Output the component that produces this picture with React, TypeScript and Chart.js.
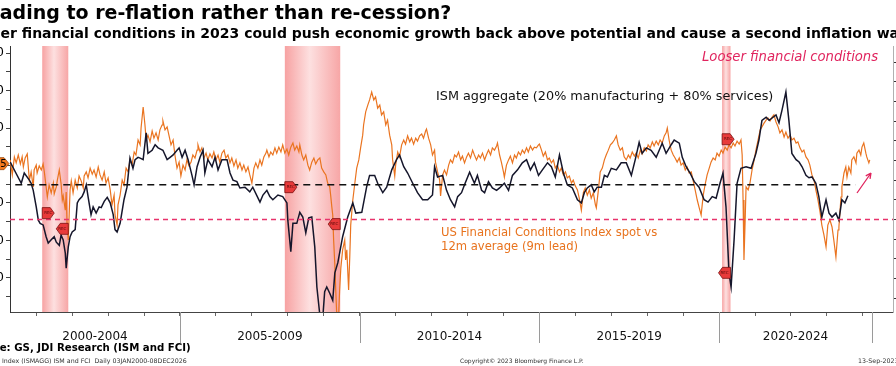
import React, { useEffect, useRef } from "react";
import { Chart, registerables } from "chart.js";

Chart.register(...registerables);

const FONT = "'DejaVu Sans', Verdana, sans-serif";

// ---- Time axis: months since January 2000 ----
const xMin = 3.24;
const xMax = 298.06;
const yearTicks = Array.from({ length: 24 }, (_, i) => 12 * (i + 1));
const periodLabels = ["2000-2004", "2005-2009", "2010-2014", "2015-2019", "2020-2024"];
const periodBounds = [0, 60, 120, 180, 240, 291];

// ---- Left axis (FCI spot vs 12m average, inverted) ----
const leftMin = -3.907;
const leftMax = 3.187;
const leftTicks = [-3.5, -3, -2.5, -2, -1.5, -1, -0.5, 0, 0.5, 1, 1.5, 2, 2.5, 3];
const fciLastTag = "0.05";

// ---- Right axis (ISM) ----
const rightMin = 38.22;
const rightMax = 72.06;
const rightTicks = [40, 42.5, 45, 47.5, 50, 52.5, 55, 57.5, 60, 62.5, 65, 67.5, 70];
const ismAverage = 54.4;
const ismAverageSpan = [5, 285.5];
const ismThreshold = 50;

// ---- Recessions (months since Jan 2000) ----
const recStart = [14, 95, 241];
const recEnd = [22.7, 113.5, 243.8];
const recStartIsm = [50.8, 54.1, 60.2];
const recEndIsm = [48.8, 49.4, 43.2];

// ---- ISM aggregate (20% manufacturing + 80% services) ----
const ismMonths = [
  3.3, 7, 8, 9.7, 10.3, 11, 12, 12.7, 13.3, 14.3,
  15.3, 16, 17, 18, 18.7, 19.7, 20.3, 21, 21.7, 22,
  22.7, 23.3, 24, 25, 25.7, 26.3, 27.3, 28, 28.7, 29.3,
  30.3, 31, 32, 33, 33.7, 34.7, 35.7, 36.7, 37.7, 38.3,
  39, 40, 41.3, 42.3, 43.3, 44.3, 45, 46, 46.7, 47.7,
  48.7, 49.3, 50.7, 51.7, 52.7, 54.3, 55.7, 56.7, 57.7, 59,
  59.7, 60.7, 61.7, 62.7, 64, 64.7, 65.7, 66.7, 67.7, 68.3,
  69.3, 70.7, 71.7, 72.7, 74, 75.7, 76.7, 77.7, 79, 80,
  81.7, 83.3, 84.3, 86.7, 87.7, 89, 90, 91, 92.7, 94.3,
  95.7, 96, 97, 97.7, 99, 100, 101, 102, 103, 104,
  105, 105.7, 106.7, 107.7, 108.3, 109, 110, 111, 111.7, 112.7,
  114.3, 116, 117.7, 118.7, 120.7, 122.3, 123.3, 125, 126, 127.7,
  129, 130.7, 132.3, 133.3, 134.7, 136, 137.7, 139.3, 141, 142.7,
  144.3, 145, 146, 147.7, 149, 150.3, 151.7, 152.7, 154, 155,
  156.7, 158.3, 159.3, 160.7, 161.7, 163, 164.3, 165.7, 166.7, 168.3,
  169.7, 171, 172.7, 174.3, 175.7, 177, 178.3, 179.7, 181, 182.7,
  184, 185.3, 186.7, 188, 189.3, 191, 192.7, 194, 195, 196,
  197.3, 198.3, 199.3, 200.7, 201.7, 202.7, 204, 205.7, 207.3, 209,
  210.7, 212, 213.3, 214.3, 215.7, 217.3, 219, 220, 221, 222.3,
  224, 225, 226.7, 227.7, 229, 230.3, 231.7, 233.3, 235, 236.3,
  237.7, 239, 240.3, 241.3, 242.3, 243.3, 244, 245, 246, 247.3,
  249, 250.7, 252.3, 253.3, 254.3, 255.7, 256.7, 257.7, 259, 260,
  261, 262.3, 263.3, 264.3, 265.7, 266.7, 267.7, 269, 270, 271,
  272.3, 273.3, 274.3, 275.7, 276.7, 277.7, 279, 280, 281, 282,
  283,
];
const ismValues = [
  57.3, 54.6, 55.9, 55.0, 54.6, 53.7, 51.6, 49.9, 49.5, 49.3,
  47.8, 47.0, 47.4, 47.8, 47.1, 46.7, 48.0, 47.4, 45.7, 43.8,
  46.5, 47.8, 48.4, 48.7, 52.1, 52.5, 52.9, 53.5, 54.4, 52.9,
  50.6, 51.6, 50.8, 51.6, 51.5, 52.3, 52.8, 52.1, 50.6, 48.7,
  48.4, 49.5, 52.5, 54.1, 57.8, 56.5, 57.6, 57.9, 57.8, 57.6,
  61.0, 58.4, 58.8, 59.5, 59.1, 58.8, 57.6, 57.9, 58.2, 58.8,
  59.1, 57.9, 58.8, 57.6, 55.6, 54.4, 56.7, 57.9, 58.8, 55.9,
  57.6, 56.7, 57.9, 56.3, 57.6, 57.6, 55.9, 55.0, 54.8, 54.0,
  54.1, 53.5, 54.1, 52.2, 53.1, 53.7, 52.9, 52.5, 53.1, 52.9,
  52.1, 49.9, 45.9, 49.5, 49.5, 50.9, 50.3, 48.3, 50.2, 50.3,
  46.5, 41.4, 37.8, 37.6, 40.8, 41.4, 40.6, 39.7, 43.2, 44.5,
  47.8, 50.3, 52.1, 50.8, 50.9, 54.1, 55.6, 55.6, 54.6, 53.4,
  54.1, 56.3, 57.6, 58.2, 56.7, 55.9, 54.6, 53.4, 52.5, 52.5,
  53.1, 56.7, 55.4, 55.6, 53.7, 52.5, 51.6, 52.9, 53.4, 54.4,
  56.0, 54.6, 55.6, 53.7, 53.4, 54.8, 54.0, 53.7, 54.0, 54.6,
  53.7, 55.6, 56.3, 57.2, 57.6, 56.3, 57.2, 55.6, 56.3, 57.2,
  56.7, 55.4, 58.2, 55.9, 54.4, 54.0, 52.5, 52.1, 53.4, 54.0,
  54.4, 53.5, 54.1, 54.1, 55.6, 55.4, 56.5, 56.3, 57.2, 57.2,
  55.6, 57.6, 59.8, 58.4, 59.1, 58.8, 57.9, 58.8, 59.7, 58.4,
  59.5, 60.1, 59.7, 57.9, 56.7, 55.9, 54.8, 54.1, 52.5, 52.2,
  52.9, 52.7, 54.6, 55.9, 51.6, 43.2, 41.4, 47.4, 54.6, 56.5,
  56.7, 56.5, 58.4, 60.1, 62.6, 63.0, 62.6, 62.9, 63.3, 62.3,
  63.9, 66.2, 62.6, 58.4, 57.6, 57.3, 56.7, 55.6, 55.3, 55.4,
  54.6, 52.9, 50.3, 52.5, 50.8, 50.3, 50.8, 49.9, 52.5, 52.1,
  53.0,
];

// ---- US Financial Conditions Index spot vs 12m average (9m lead) ----
const fciMonths = [
  3.3, 4.0, 4.7, 5.3, 6.0, 6.7, 7.3, 7.7, 8.3, 9.0,
  9.3, 9.7, 10.3, 11.0, 11.3, 12.0, 12.3, 13.0, 13.7, 14.3,
  14.7, 15.3, 15.7, 16.3, 17.0, 17.7, 18.0, 18.7, 19.0, 19.7,
  20.3, 20.7, 21.0, 21.7, 22.0, 22.3, 22.7, 23.0, 23.3, 23.7,
  24.3, 25.0, 25.7, 26.3, 27.0, 27.7, 28.0, 28.7, 29.3, 30.0,
  30.7, 31.3, 32.0, 32.7, 33.3, 34.0, 34.7, 35.3, 36.0, 36.7,
  37.3, 38.0, 38.3, 39.0, 39.3, 40.0, 40.7, 41.3, 42.0, 42.7,
  43.3, 44.0, 44.7, 45.3, 46.0, 46.7, 47.0, 47.7, 48.3, 48.7,
  49.3, 50.0, 50.7, 51.3, 52.0, 52.7, 53.3, 54.0, 54.3, 55.0,
  55.7, 56.3, 57.0, 57.7, 58.3, 59.0, 59.7, 60.3, 61.0, 61.7,
  62.3, 63.0, 63.7, 64.3, 65.0, 65.7, 66.0, 66.7, 67.3, 68.0,
  68.7, 69.3, 70.0, 70.7, 71.3, 72.0, 72.7, 73.3, 74.0, 74.7,
  75.3, 76.0, 76.7, 77.3, 78.0, 78.7, 79.3, 80.0, 80.7, 81.3,
  82.0, 82.7, 83.3, 84.0, 84.7, 85.3, 86.0, 86.7, 87.3, 88.0,
  88.7, 89.0, 89.7, 90.3, 91.0, 91.7, 92.3, 93.0, 93.7, 94.3,
  95.0, 95.7, 96.3, 97.0, 97.7, 98.3, 99.0, 99.7, 100.0, 100.7,
  101.3, 102.0, 102.7, 103.3, 104.0, 104.7, 105.3, 106.0, 106.7, 107.3,
  108.0, 108.7, 109.3, 110.0, 110.3, 110.7, 111.0, 111.3, 111.7, 112.0,
  112.3, 113.0, 113.3, 113.7, 114.3, 115.0, 115.3, 115.7, 116.0, 116.3,
  116.7, 117.0, 117.7, 118.3, 119.0, 119.7, 120.3, 121.0, 121.3, 122.0,
  122.7, 123.3, 124.0, 124.7, 125.3, 126.0, 126.7, 127.3, 128.0, 128.7,
  129.3, 130.0, 130.7, 131.0, 131.7, 132.0, 132.7, 133.3, 134.0, 134.7,
  135.3, 136.0, 136.7, 137.3, 138.0, 138.7, 139.3, 140.0, 140.7, 141.3,
  142.0, 142.3, 143.0, 143.7, 144.3, 145.0, 145.3, 146.0, 146.7, 147.0,
  147.7, 148.3, 149.0, 149.7, 150.3, 151.0, 151.7, 152.3, 153.0, 153.7,
  154.3, 155.0, 155.7, 156.3, 157.0, 157.7, 158.3, 159.0, 159.7, 160.3,
  161.0, 161.7, 162.3, 163.0, 163.7, 164.3, 165.0, 165.7, 166.0, 166.7,
  167.3, 168.0, 168.3, 169.0, 169.7, 170.3, 171.0, 171.7, 172.3, 173.0,
  173.7, 174.3, 175.0, 175.7, 176.3, 177.0, 177.7, 178.3, 179.0, 179.7,
  180.0, 180.7, 181.3, 182.0, 182.7, 183.3, 184.0, 184.7, 185.3, 186.0,
  186.7, 187.3, 188.0, 188.7, 189.3, 190.0, 190.7, 191.3, 192.0, 192.7,
  193.3, 194.0, 194.7, 195.3, 196.0, 196.7, 197.3, 198.0, 198.7, 199.0,
  199.7, 200.3, 201.0, 201.7, 202.3, 203.0, 203.7, 204.3, 205.0, 205.7,
  206.3, 207.0, 207.7, 208.3, 209.0, 209.7, 210.3, 211.0, 211.7, 212.3,
  213.0, 213.7, 214.3, 215.0, 215.7, 216.3, 217.0, 217.7, 218.3, 219.0,
  219.7, 220.3, 221.0, 221.7, 222.3, 222.7, 223.3, 224.0, 224.7, 225.3,
  226.0, 226.7, 227.3, 228.0, 228.7, 229.3, 230.0, 230.7, 231.3, 232.0,
  232.7, 233.3, 234.0, 234.7, 235.3, 236.0, 236.7, 237.3, 238.0, 238.7,
  239.3, 240.0, 240.7, 241.3, 242.0, 242.7, 243.3, 244.0, 244.7, 245.3,
  246.0, 246.7, 247.3, 247.7, 248.0, 248.3, 248.7, 249.0, 249.7, 250.3,
  251.0, 251.7, 252.3, 253.0, 253.7, 254.3, 255.0, 255.7, 256.3, 257.0,
  257.7, 258.3, 259.0, 259.7, 260.3, 261.0, 261.7, 262.3, 263.0, 263.7,
  264.3, 265.0, 265.7, 266.3, 267.0, 267.7, 268.3, 269.0, 269.7, 270.3,
  271.0, 271.7, 272.3, 273.0, 273.7, 274.3, 275.0, 275.7, 276.3, 277.0,
  277.7, 278.3, 279.0, 279.7, 280.0, 280.7, 281.0, 281.7, 282.3, 282.7,
  283.3, 284.0, 284.3, 285.0, 285.7, 286.0, 286.7, 287.3, 287.7, 288.3,
  289.0, 289.3, 290.0, 290.3,
];
const fciValues = [
  0.15, -0.25, 0.23, 0.07, 0.28, 0.04, 0.23, -0.04, 0.20, 0.31,
  0.01, -0.39, -0.17, -0.57, -0.12, 0.01, -0.20, -0.01, -0.12, 0.04,
  -0.17, -0.57, -0.84, -0.52, -0.73, -0.47, -0.76, -0.57, -0.41, -0.12,
  -0.49, -0.92, -0.81, -1.19, -0.71, -1.59, -1.99, -1.32, -0.65, -0.41,
  -0.73, -0.39, -0.60, -0.28, -0.41, -0.60, -0.28, -0.17, -0.33, -0.07,
  -0.23, -0.12, -0.31, -0.04, -0.25, -0.39, -0.17, -0.47, -0.33, -0.65,
  -1.05, -0.79, -1.32, -1.59, -1.05, -0.79, -0.39, -0.52, -0.07, -0.17,
  0.15, 0.01, 0.36, 0.28, 0.68, 0.55, 1.00, 1.56, 1.08, 0.68,
  0.81, 0.63, 0.92, 0.73, 0.87, 0.68, 0.95, 1.08, 1.19, 0.95,
  1.03, 0.81, 0.55, 0.68, 0.28, -0.07, 0.09, -0.28, 0.01, -0.12,
  0.15, -0.01, 0.09, 0.28, 0.20, 0.41, 0.55, 0.36, 0.47, 0.20,
  0.33, 0.15, 0.31, 0.20, 0.36, 0.15, 0.28, 0.09, 0.33, 0.41,
  0.20, 0.28, 0.07, 0.20, -0.01, 0.15, -0.07, 0.07, -0.12, 0.01,
  -0.17, -0.04, -0.25, -0.47, -0.07, 0.07, -0.07, 0.15, 0.01, 0.23,
  0.33, 0.41, 0.23, 0.36, 0.28, 0.47, 0.33, 0.49, 0.36, 0.55,
  0.33, 0.44, 0.28, 0.49, 0.60, 0.41, 0.52, 0.36, 0.55, 0.28,
  0.15, 0.28, 0.01, -0.12, 0.09, 0.20, 0.04, 0.15, 0.20, -0.07,
  -0.17, -0.25, -0.47, -0.57, -0.79, -1.11, -1.32, -1.99, -2.65, -3.32,
  -3.91, -3.93, -3.32, -2.73, -2.25, -1.99, -2.52, -2.25, -2.79, -3.32,
  -2.39, -1.59, -0.92, -0.52, -0.07, 0.15, 0.47, 0.81, 1.08, 1.43,
  1.61, 1.75, 1.96, 1.75, 1.83, 1.53, 1.61, 1.35, 1.43, 1.08,
  1.21, 0.81, 0.55, 0.15, -0.28, 0.01, 0.36, 0.23, 0.55, 0.68,
  0.57, 0.79, 0.63, 0.73, 0.57, 0.73, 0.65, 0.79, 0.84, 0.73,
  0.92, 0.97, 0.73, 0.55, 0.28, 0.41, 0.09, -0.17, -0.39, -0.81,
  -0.25, -0.12, -0.25, 0.01, 0.15, 0.07, 0.28, 0.23, 0.36, 0.15,
  0.25, 0.07, 0.23, 0.33, 0.20, 0.41, 0.28, 0.15, 0.28, 0.20,
  0.33, 0.15, 0.28, 0.41, 0.28, 0.47, 0.41, 0.52, 0.60, 0.28,
  0.09, -0.17, -0.31, 0.01, 0.15, 0.25, 0.07, 0.28, 0.20, 0.36,
  0.28, 0.41, 0.33, 0.47, 0.36, 0.52, 0.41, 0.49, 0.47, 0.55,
  0.57, 0.41, 0.25, 0.36, 0.15, 0.20, 0.07, 0.15, -0.07, 0.01,
  -0.17, -0.07, -0.25, -0.17, -0.33, -0.28, -0.47, -0.39, -0.55, -0.65,
  -0.87, -1.19, -0.71, -0.60, -0.79, -0.65, -0.87, -0.73, -1.05, -1.13,
  -0.65, -0.17, -0.07, 0.15, 0.28, 0.41, 0.55, 0.60, 0.68, 0.79,
  0.55, 0.41, 0.47, 0.23, 0.15, 0.28, 0.20, 0.36, 0.25, 0.33,
  0.20, 0.41, 0.31, 0.47, 0.39, 0.55, 0.47, 0.63, 0.52, 0.65,
  0.55, 0.68, 0.60, 0.79, 0.87, 1.00, 0.68, 0.41, 0.28, 0.20,
  0.09, 0.20, 0.01, 0.07, -0.12, -0.04, -0.20, -0.17, -0.39, -0.65,
  -0.92, -1.11, -1.32, -0.79, -0.52, -0.25, -0.07, 0.09, 0.20, 0.15,
  0.33, 0.25, 0.41, 0.33, 0.49, 0.41, 0.55, 0.47, 0.60, 0.52,
  0.65, 0.57, 0.68, 0.28, -0.92, -2.52, -1.45, -0.57, -0.65, -0.47,
  -0.12, 0.15, 0.41, 0.68, 0.95, 1.03, 1.13, 1.21, 1.27, 1.19,
  1.29, 1.35, 1.16, 1.03, 0.87, 0.95, 0.76, 0.89, 0.73, 0.81,
  0.68, 0.73, 0.60, 0.63, 0.47, 0.36, 0.41, 0.23, 0.15, 0.01,
  -0.25, -0.39, -0.65, -0.92, -1.24, -1.59, -1.85, -2.17, -1.59, -1.45,
  -1.64, -1.99, -2.44, -1.72, -1.64, -0.84, -0.57, -0.20, -0.04, -0.31,
  -0.04, -0.20, 0.15, 0.23, 0.07, 0.33, 0.41, 0.28, 0.49, 0.60,
  0.33, 0.23, 0.07, 0.15,
];

function drawTag(ctx: CanvasRenderingContext2D, x: number, y: number, dir: number) {
  const h = 5.5;
  const body = 8;
  const tip = 4;
  ctx.save();
  ctx.beginPath();
  ctx.moveTo(x, y - h);
  ctx.lineTo(x + dir * body, y - h);
  ctx.lineTo(x + dir * (body + tip), y);
  ctx.lineTo(x + dir * body, y + h);
  ctx.lineTo(x, y + h);
  ctx.closePath();
  ctx.fillStyle = "#e83a3a";
  ctx.fill();
  ctx.strokeStyle = "#7a1010";
  ctx.lineWidth = 0.8;
  ctx.stroke();
  ctx.fillStyle = "#5a0a0a";
  ctx.font = `4px ${FONT}`;
  ctx.textAlign = "center";
  ctx.textBaseline = "middle";
  ctx.fillText("REC", x + (dir * (body + tip)) / 2, y);
  ctx.restore();
}

const overlayPlugin = {
  id: "overlay",
  beforeDatasetsDraw(chart: any) {
    const { ctx, chartArea: a, scales } = chart;
    const xs = scales.x;
    ctx.save();
    ctx.beginPath();
    ctx.rect(a.left, a.top, a.right - a.left, a.bottom - a.top);
    ctx.clip();
    for (let i = 0; i < recStart.length; i++) {
      const x0 = xs.getPixelForValue(recStart[i]);
      const x1 = xs.getPixelForValue(recEnd[i]);
      const g = ctx.createLinearGradient(x0, 0, x1, 0);
      g.addColorStop(0, "#f7a2a2");
      g.addColorStop(0.45, "#fde0e0");
      g.addColorStop(1, "#f7a6a6");
      ctx.fillStyle = g;
      ctx.fillRect(x0, a.top, x1 - x0, a.bottom - a.top);
    }
    ctx.restore();
  },
  afterDatasetsDraw(chart: any) {
    const { ctx, scales } = chart;
    const xs = scales.x;
    const ys = scales.y1;
    for (let i = 0; i < recStart.length; i++) {
      drawTag(ctx, xs.getPixelForValue(recStart[i]), ys.getPixelForValue(recStartIsm[i]), 1);
      drawTag(ctx, xs.getPixelForValue(recEnd[i]), ys.getPixelForValue(recEndIsm[i]), -1);
    }
  },
  afterDraw(chart: any) {
    const { ctx, chartArea: a, scales } = chart;
    const xs = scales.x;
    ctx.save();
    // period separators
    ctx.strokeStyle = "#9a9a9a";
    ctx.lineWidth = 1;
    for (let i = 1; i < periodBounds.length; i++) {
      const px = Math.round(xs.getPixelForValue(periodBounds[i])) + 0.5;
      ctx.beginPath();
      ctx.moveTo(px, a.bottom);
      ctx.lineTo(px, a.bottom + 31);
      ctx.stroke();
    }
    // period labels
    ctx.fillStyle = "#111";
    ctx.font = `12px ${FONT}`;
    ctx.textAlign = "center";
    ctx.textBaseline = "alphabetic";
    periodLabels.forEach((lab, i) => {
      const lo = Math.max(periodBounds[i], xs.min);
      const hi = Math.min(periodBounds[i + 1], xs.max);
      ctx.fillText(lab, xs.getPixelForValue((lo + hi) / 2), a.bottom + 28);
    });
    // annotations
    ctx.textAlign = "left";
    ctx.fillStyle = "#111";
    ctx.font = `12.8px ${FONT}`;
    ctx.fillText("ISM aggregate (20% manufacturing + 80% services)", 436, 100);
    ctx.fillStyle = "#e8731e";
    ctx.font = `11.6px ${FONT}`;
    ctx.fillText("US Financial Conditions Index spot vs", 441, 235.5);
    ctx.fillText("12m average (9m lead)", 441, 249.5);
    ctx.fillStyle = "#e0245e";
    ctx.font = `italic 13.2px ${FONT}`;
    ctx.fillText("Looser financial conditions", 702, 61);
    // arrow
    ctx.strokeStyle = "#e0245e";
    ctx.lineWidth = 1.3;
    const ax0 = 857, ay0 = 193, ax1 = 871, ay1 = 173;
    ctx.beginPath();
    ctx.moveTo(ax0, ay0);
    ctx.lineTo(ax1, ay1);
    const ang = Math.atan2(ay1 - ay0, ax1 - ax0);
    ctx.moveTo(ax1, ay1);
    ctx.lineTo(ax1 - 6 * Math.cos(ang - 0.45), ay1 - 6 * Math.sin(ang - 0.45));
    ctx.moveTo(ax1, ay1);
    ctx.lineTo(ax1 - 6 * Math.cos(ang + 0.45), ay1 - 6 * Math.sin(ang + 0.45));
    ctx.stroke();
    // left value tag
    const ty = scales.y.getPixelForValue(Number(fciLastTag));
    ctx.beginPath();
    ctx.moveTo(-4, ty - 6);
    ctx.lineTo(4, ty - 6);
    ctx.lineTo(9, ty);
    ctx.lineTo(4, ty + 6);
    ctx.lineTo(-4, ty + 6);
    ctx.closePath();
    ctx.fillStyle = "#f27a1f";
    ctx.fill();
    ctx.strokeStyle = "#9a4a10";
    ctx.lineWidth = 0.8;
    ctx.stroke();
    ctx.fillStyle = "#000";
    ctx.font = `10px ${FONT}`;
    ctx.textAlign = "right";
    ctx.textBaseline = "middle";
    ctx.fillText(fciLastTag, 6.5, ty + 0.5);
    ctx.restore();
  },
};

export default function App() {
  const canvasRef = useRef<HTMLCanvasElement | null>(null);

  useEffect(() => {
    const canvas = canvasRef.current;
    if (!canvas) return;
    const chart = new Chart(canvas, {
      type: "line",
      data: {
        datasets: [
          {
            label: "ISM average",
            data: ismAverageSpan.map((m) => ({ x: m, y: ismAverage })),
            yAxisID: "y1",
            borderColor: "#111",
            borderWidth: 1.5,
            borderDash: [7, 5],
            pointRadius: 0,
            order: 0,
          },
          {
            label: "ISM 50",
            data: [
              { x: xMin, y: ismThreshold },
              { x: xMax, y: ismThreshold },
            ],
            yAxisID: "y1",
            borderColor: "#e8336b",
            borderWidth: 1.5,
            borderDash: [5, 4],
            pointRadius: 0,
            order: 0,
          },
          {
            label: "ISM aggregate",
            data: ismMonths.map((m, i) => ({ x: m, y: ismValues[i] })),
            yAxisID: "y1",
            borderColor: "#15162b",
            borderWidth: 1.5,
            pointRadius: 0,
            tension: 0,
            order: 1,
          },
          {
            label: "US FCI spot vs 12m avg",
            data: fciMonths.map((m, i) => ({ x: m, y: fciValues[i] })),
            yAxisID: "y",
            borderColor: "#ea7420",
            borderWidth: 1.2,
            pointRadius: 0,
            tension: 0,
            order: 2,
          },
        ],
      },
      options: {
        responsive: false,
        animation: false,
        events: [],
        layout: { padding: { top: 46, left: 0, right: 0, bottom: 0 } },
        plugins: { legend: { display: false }, tooltip: { enabled: false }, title: { display: false } },
        scales: {
          x: {
            type: "linear",
            min: xMin,
            max: xMax,
            afterBuildTicks: (s: any) => {
              s.ticks = yearTicks.map((v) => ({ value: v }));
            },
            afterFit: (s: any) => {
              s.height = 54;
            },
            ticks: { autoSkip: false, maxRotation: 0, callback: () => "" },
            grid: { drawOnChartArea: false, drawTicks: true, tickLength: 4, color: "#666" },
            border: { display: true, color: "#444", width: 1 },
          },
          y: {
            position: "left",
            min: leftMin,
            max: leftMax,
            afterBuildTicks: (s: any) => {
              s.ticks = leftTicks.map((v) => ({ value: v }));
            },
            afterFit: (s: any) => {
              s.width = 10;
            },
            ticks: {
              autoSkip: false,
              padding: 2,
              color: "#000",
              font: { family: FONT, size: 12 },
              callback: (v: any) => (Number.isInteger(Number(v)) ? Number(v).toFixed(1) : ""),
            },
            grid: { drawOnChartArea: false, drawTicks: true, tickLength: 4, color: "#444" },
            border: { display: true, color: "#333", width: 1 },
          },
          y1: {
            position: "right",
            min: rightMin,
            max: rightMax,
            afterBuildTicks: (s: any) => {
              s.ticks = rightTicks.map((v) => ({ value: v }));
            },
            afterFit: (s: any) => {
              s.width = 3;
            },
            ticks: { autoSkip: false, padding: 0, callback: () => "" },
            grid: { drawOnChartArea: false, drawTicks: true, tickLength: 3, color: "#333" },
            border: { display: true, color: "#b0b0b0", width: 1 },
          },
        },
      },
      plugins: [overlayPlugin],
    } as any);
    return () => chart.destroy();
  }, []);

  const base: React.CSSProperties = {
    position: "absolute",
    whiteSpace: "pre",
    fontFamily: FONT,
    color: "#000",
    margin: 0,
  };

  return (
    <div
      style={{
        position: "fixed",
        left: 0,
        top: 0,
        width: 896,
        height: 366,
        overflow: "hidden",
        background: "#fff",
      }}
    >
      <canvas
        ref={canvasRef}
        width={896}
        height={366}
        style={{ position: "absolute", left: 0, top: 0, width: 896, height: 366, display: "block" }}
      />
      <div style={{ ...base, left: -29, top: 3, fontSize: 19, lineHeight: "19px", fontWeight: "bold" }}>
        Heading to re-flation rather than re-cession?
      </div>
      <div style={{ ...base, left: -36, top: 25.5, fontSize: 14, lineHeight: "14px", fontWeight: "bold" }}>
        Looser financial conditions in 2023 could push economic growth back above potential and cause a second inflation wave
      </div>
      <div style={{ ...base, left: -33, top: 343, fontSize: 10.2, lineHeight: "10.5px", fontWeight: "bold" }}>
        Source: GS, JDI Research (ISM and FCI)
      </div>
      <div style={{ ...base, left: 2, top: 357.5, fontSize: 6.3, lineHeight: "6.3px", color: "#333" }}>
        {"Index (ISMAGG) ISM and FCI  Daily 03JAN2000-08DEC2026"}
      </div>
      <div style={{ ...base, left: 460, top: 357.5, fontSize: 6, lineHeight: "6.3px", color: "#333" }}>
        Copyright© 2023 Bloomberg Finance L.P.
      </div>
      <div style={{ ...base, left: 858, top: 357.5, fontSize: 6.3, lineHeight: "6.3px", color: "#333" }}>
        13-Sep-2023
      </div>
    </div>
  );
}
